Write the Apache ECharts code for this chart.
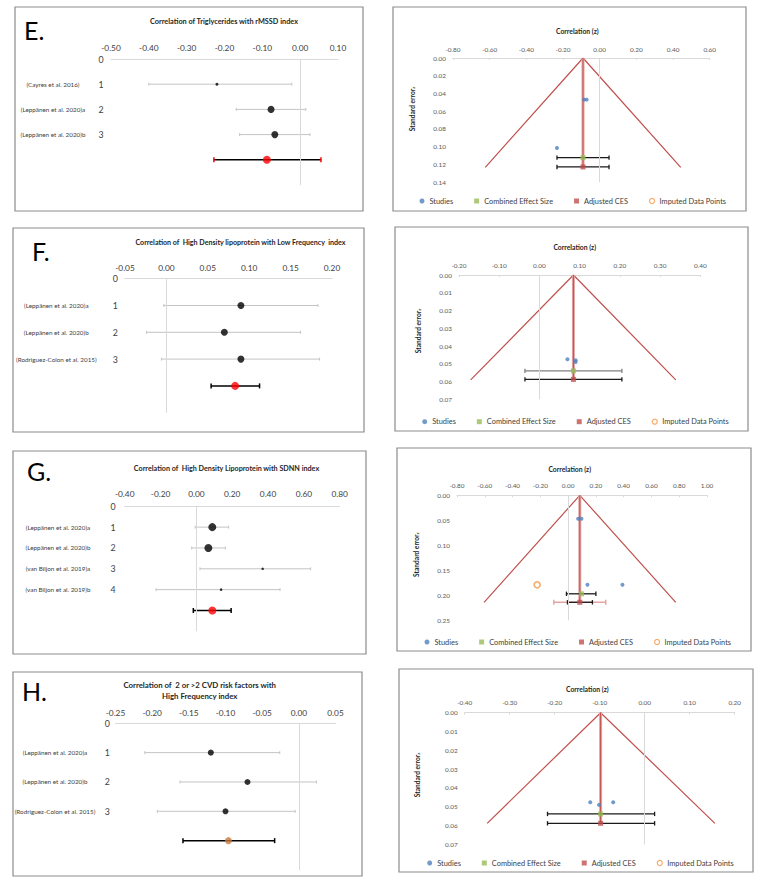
<!DOCTYPE html>
<html><head><meta charset="utf-8">
<script src="https://cdn.jsdelivr.net/npm/echarts/dist/echarts.min.js"></script>
<style>html,body{margin:0;padding:0;background:#fff}#c{width:764px;height:883px}</style>
</head><body><div id="c"></div><script>
// ================= DATA =================
// ---- E: forest (Triglycerides vs rMSSD) ----
const eStudies = ['(Cayres et al. 2016)', '(Leppänen et al. 2020)a', '(Leppänen et al. 2020)b'];
const eEstimate = [-0.220, -0.077, -0.067];
const eLower = [-0.400, -0.169, -0.160];
const eUpper = [-0.022, 0.015, 0.026];
const eSummary = [-0.088, -0.228, 0.055];          // estimate, lower, upper
const eXAxis = [-0.5, 0.1, 0.1];                    // min, max, interval
// ---- E: funnel ----
const eFunnelApex = [-0.091, 0];
const eFunnelEdges = [[-0.624, 0.1234], [0.442, 0.1234]];
const eStudyZ = [-0.085, -0.071, -0.233];
const eStudySE = [0.047, 0.047, 0.1016];
const eCombined = [-0.091, 0.1125];
const eCombinedCI = [-0.233, 0.051];
const eAdjusted = [-0.091, 0.123];
const eAdjustedCI = [-0.233, 0.051];
const eFunnelX = [-0.8, 0.6, 0.2];
const eFunnelY = [0, 0.14, 0.02];

// ---- F: forest (HDL vs LF) ----
const fStudies = ['(Leppänen et al. 2020)a', '(Leppänen et al. 2020)b', '(Rodriguez-Colon et al. 2015)'];
const fEstimate = [0.090, 0.070, 0.090];
const fLower = [-0.003, -0.024, -0.006];
const fUpper = [0.183, 0.162, 0.185];
const fSummary = [0.083, 0.054, 0.1125];
const fXAxis = [-0.05, 0.2, 0.05];
// ---- F: funnel ----
const fFunnelApex = [0.0845, 0];
const fFunnelEdges = [[-0.171, 0.0591], [0.339, 0.0591]];
const fStudyZ = [0.0697, 0.090, 0.090];
const fStudySE = [0.0475, 0.048, 0.049];
const fCombined = [0.0845, 0.054];
const fCombinedCI = [-0.036, 0.205];
const fAdjusted = [0.0845, 0.0588];
const fAdjustedCI = [-0.036, 0.205];
const fFunnelX = [-0.2, 0.4, 0.1];
const fFunnelY = [0, 0.07, 0.01];

// ---- G: forest (HDL vs SDNN) ----
const gStudies = ['(Leppänen et al. 2020)a', '(Leppänen et al. 2020)b', '(van Biljon et al. 2019)a', '(van Biljon et al. 2019)b'];
const gEstimate = [0.089, 0.067, 0.370, 0.138];
const gLower = [-0.007, -0.026, 0.020, -0.225];
const gUpper = [0.180, 0.162, 0.638, 0.467];
const gSummary = [0.089, -0.017, 0.194];
const gXAxis = [-0.4, 0.8, 0.2];
// ---- G: funnel ----
const gFunnelApex = [0.084, 0];
const gFunnelEdges = [[-0.605, 0.214], [0.775, 0.214]];
const gStudyZ = [0.072, 0.096, 0.139, 0.391];
const gStudySE = [0.0467, 0.0467, 0.179, 0.179];
const gImputedZ = [-0.223];
const gImputedSE = [0.179];
const gCombined = [0.096, 0.197];
const gCombinedCI = [-0.012, 0.200];
const gAdjusted = [0.084, 0.214];
const gAdjustedCI = [-0.005, 0.175];
const gAdjustedCIWide = [-0.103, 0.271];
const gFunnelX = [-0.8, 1.0, 0.2];
const gFunnelY = [0, 0.25, 0.05];

// ---- H: forest (2 or >2 CVD risk factors vs HF) ----
const hStudies = ['(Leppänen et al. 2020)a', '(Leppänen et al. 2020)b', '(Rodriguez-Colon et al. 2015)'];
const hEstimate = [-0.120, -0.070, -0.100];
const hLower = [-0.210, -0.162, -0.193];
const hUpper = [-0.026, 0.024, -0.005];
const hSummary = [-0.096, -0.158, -0.033];
const hXAxis = [-0.25, 0.05, 0.05];
// ---- H: funnel ----
const hFunnelApex = [-0.098, 0];
const hFunnelEdges = [[-0.350, 0.0588], [0.156, 0.0588]];
const hStudyZ = [-0.121, -0.1016, -0.070];
const hStudySE = [0.0476, 0.049, 0.0476];
const hCombined = [-0.098, 0.0538];
const hCombinedCI = [-0.216, 0.022];
const hAdjusted = [-0.098, 0.0588];
const hAdjustedCI = [-0.216, 0.022];
const hFunnelX = [-0.4, 0.2, 0.1];
const hFunnelY = [0, 0.07, 0.01];

const legendNames = ['Studies', 'Combined Effect Size', 'Adjusted CES', 'Imputed Data Points'];
const funnelTitle = 'Correlation (z)';
const funnelYName = 'Standard error';

// ================= BUILD =================
const FONT = 'Lato, "Open Sans", sans-serif';
const fmt2 = v => (Math.abs(v) < 1e-9 ? 0 : v).toFixed(2);
const grids = [], xAxes = [], yAxes = [], series = [], graphics = [], legends = [];

function ciSeries(idx, data, st) {
  return {
    type: 'custom', xAxisIndex: idx, yAxisIndex: idx, silent: true, data: data,
    encode: { x: [0, 1], y: 2 }, z: st.z || 2,
    renderItem: function (params, api) {
      const y = api.value(2);
      const a = api.coord([api.value(0), y]), b = api.coord([api.value(1), y]);
      const ch = [{ type: 'line', shape: { x1: a[0], y1: a[1], x2: b[0], y2: b[1] }, style: { stroke: st.color, lineWidth: st.width } }];
      if (st.cap) {
        [a, b].forEach(p => ch.push({ type: 'line', shape: { x1: p[0], y1: p[1] - st.cap, x2: p[0], y2: p[1] + st.cap },
          style: { stroke: st.capColor || st.color, lineWidth: st.capWidth || st.width } }));
      }
      return { type: 'group', children: ch };
    }
  };
}
function txt(x, y, str, size, weight, extra) {
  return Object.assign({ type: 'text', x: x, y: y, silent: true, z: 10,
    style: { text: str, fontSize: size, fontWeight: weight || 'normal', fontFamily: FONT, fill: '#262626', align: 'center', verticalAlign: 'middle' } }, extra || {});
}
function box(b) {
  graphics.push({ type: 'rect', silent: true, z: 0, shape: { x: b[0], y: b[1], width: b[2], height: b[3] },
    style: { fill: 'none', stroke: '#8c8c8c', lineWidth: 1.2 } });
}

function addForest(d, L, S) {
  const idx = grids.length;
  const n = d.studies.length;
  grids.push({ left: L.left, top: L.top, width: L.width, height: L.height });
  xAxes.push({ type: 'value', gridIndex: idx, position: 'top', min: d.x[0], max: d.x[1], interval: d.x[2],
    axisLine: { show: true, onZero: false, lineStyle: { color: '#d9d9d9', width: 1 } }, axisTick: { show: false }, splitLine: { show: false },
    axisLabel: { formatter: fmt2, fontSize: 8.3, color: '#404040', fontFamily: FONT, margin: L.xMargin } });
  yAxes.push({ type: 'value', gridIndex: idx, inverse: true, min: 0, max: L.rows, interval: 1,
    axisLine: { show: false }, axisTick: { show: false }, splitLine: { show: false },
    axisLabel: { margin: L.yMargin, fontFamily: FONT,
      formatter: function (v) { v = Math.round(v); if (v === 0) return '{v|0}'; if (v <= n) return '{n|' + d.studies[v - 1] + '}{v|' + v + '}'; return ''; },
      rich: { n: { width: L.nameW, align: 'center', fontSize: 6.3, color: '#404040', fontFamily: FONT },
              v: { width: 10, align: 'center', fontSize: 8.8, color: '#404040', fontFamily: FONT } } } });
  const rows = d.studies.map((s, i) => i + 1);
  series.push(ciSeries(idx, rows.map((r, i) => [d.lo[i], d.hi[i], r]), { color: '#c4c4c4', width: 1, cap: 1.5 }));
  series.push(ciSeries(idx, [[d.summary[1], d.summary[2], n + 1]], { color: '#000', width: 1.5, cap: 2.5, capColor: S.capColor, capWidth: 1.5 }));
  series.push({ type: 'scatter', xAxisIndex: idx, yAxisIndex: idx, silent: true, z: 3,
    data: rows.map((r, i) => ({ value: [d.est[i], r], symbolSize: S.sizes[i] })), itemStyle: { color: '#000' },
    markLine: { silent: true, symbol: ['none', 'none'], label: { show: false }, lineStyle: { color: '#d9d9d9', width: 1, type: 'solid' }, data: [{ xAxis: 0 }] } });
  series.push({ type: 'scatter', xAxisIndex: idx, yAxisIndex: idx, silent: true, z: 4,
    data: [[d.summary[0], n + 1]], symbolSize: S.sumSize, itemStyle: { color: S.sumColor } });
  box(L.box);
  graphics.push(txt(L.letter[0], L.letter[1], L.letterText, 25, 'normal', { style: { text: L.letterText, fontSize: 25, fontFamily: FONT, fill: '#000', align: 'left', verticalAlign: 'middle' } }));
  L.title.forEach((t, i) => graphics.push(txt(L.titlePos[0], L.titlePos[1] + i * L.titleLine, t, L.titleSize, 'bold', null)));
}

function addFunnel(d, L) {
  const idx = grids.length;
  grids.push({ left: L.left, top: L.top, width: L.width, height: L.height });
  xAxes.push({ type: 'value', gridIndex: idx, position: 'top', min: d.x[0], max: d.x[1], interval: d.x[2],
    axisLine: { show: true, onZero: false, lineStyle: { color: '#d9d9d9', width: 1 } },
    axisTick: { show: true, length: 2, inside: true, lineStyle: { color: '#d9d9d9' } }, splitLine: { show: false },
    axisLabel: { formatter: fmt2, fontSize: 6.4, color: '#595959', fontFamily: FONT, margin: L.xMargin } });
  yAxes.push({ type: 'value', gridIndex: idx, inverse: true, min: d.y[0], max: d.y[1], interval: d.y[2],
    axisLine: { show: false }, axisTick: { show: false }, splitLine: { show: false },
    axisLabel: { formatter: fmt2, fontSize: 6.4, color: '#595959', fontFamily: FONT, margin: 7 } });
  const bottom = d.edges[0][1];
  series.push({ type: 'line', xAxisIndex: idx, yAxisIndex: idx, silent: true, symbol: 'none', z: 2,
    data: [d.edges[0], d.apex, d.edges[1]], lineStyle: { color: '#c0504d', width: 1.2 },
    markLine: { silent: true, symbol: ['none', 'none'], label: { show: false }, lineStyle: { color: '#d9d9d9', width: 1, type: 'solid' }, data: [{ xAxis: 0 }] } });
  series.push({ type: 'line', xAxisIndex: idx, yAxisIndex: idx, silent: true, symbol: 'none', z: 2,
    data: [d.apex, [d.apex[0], bottom]], lineStyle: { color: '#e3a4a2', width: 3 } });
  series.push({ type: 'line', xAxisIndex: idx, yAxisIndex: idx, silent: true, symbol: 'none', z: 2,
    data: [d.apex, [d.apex[0], bottom]], lineStyle: { color: '#c0504d', width: 1 } });
  if (d.adjWide) series.push(ciSeries(idx, [[d.adjWide[0], d.adjWide[1], d.adj[1]]], { color: '#e6a5a4', width: 1.5, cap: 2.5, z: 3 }));
  series.push(ciSeries(idx, [[d.combCI[0], d.combCI[1], d.comb[1]]], { color: L.combCIColor || '#1a1a1a', width: 1.3, cap: 2.2, z: 3 }));
  series.push(ciSeries(idx, [[d.adjCI[0], d.adjCI[1], d.adj[1]]], { color: '#1a1a1a', width: 1.3, cap: 2.2, z: 3 }));
  series.push({ name: 'Studies', type: 'scatter', xAxisIndex: idx, yAxisIndex: idx, silent: true, z: 5,
    data: d.studyZ.map((z, i) => [z, d.studySE[i]]), symbolSize: 4, itemStyle: { color: '#4f81bd' } });
  series.push({ name: 'Combined Effect Size', type: 'scatter', xAxisIndex: idx, yAxisIndex: idx, silent: true, z: 5,
    data: [d.comb], symbol: 'rect', symbolSize: 5, itemStyle: { color: '#9bbb59' } });
  series.push({ name: 'Adjusted CES', type: 'scatter', xAxisIndex: idx, yAxisIndex: idx, silent: true, z: 5,
    data: [d.adj], symbol: 'rect', symbolSize: 5, itemStyle: { color: '#c0504d' } });
  series.push({ name: 'Imputed Data Points', type: 'scatter', xAxisIndex: idx, yAxisIndex: idx, silent: true, z: 5,
    data: (d.impZ || []).map((z, i) => [z, d.impSE[i]]), symbol: 'circle', symbolSize: 6,
    itemStyle: { color: '#ffffff', borderColor: '#f79646', borderWidth: 1.6 } });
  legends.push({ left: L.legend[0], top: L.legend[1] - 4.5, itemGap: 21, itemWidth: 5, itemHeight: 5, selectedMode: false,
    padding: 0, textStyle: { fontSize: 7.4, color: '#404040', fontFamily: FONT },
    data: [
      { name: legendNames[0], icon: 'circle', itemStyle: { color: '#4f81bd' } },
      { name: legendNames[1], icon: 'rect', itemStyle: { color: '#9bbb59' } },
      { name: legendNames[2], icon: 'rect', itemStyle: { color: '#c0504d' } },
      { name: legendNames[3], icon: 'circle', itemStyle: { color: '#ffffff', borderColor: '#f79646', borderWidth: 1.2 } }
    ] });
  box(L.box);
  graphics.push(txt(L.titlePos[0], L.titlePos[1], funnelTitle, 6.8, 'bold', null));
  graphics.push({ type: 'text', x: L.yName[0], y: L.yName[1], rotation: Math.PI / 2, silent: true, z: 10,
    style: { text: funnelYName + '{s|z}', fontSize: 6.6, fontWeight: 'bold', fontFamily: FONT, fill: '#262626', align: 'center', verticalAlign: 'middle',
      rich: { s: { fontSize: 4.5, fontWeight: 'bold', fontFamily: FONT, fill: '#262626', verticalAlign: 'bottom' } } } });
}

// ---- forest panels ----
addForest({ studies: eStudies, est: eEstimate, lo: eLower, hi: eUpper, summary: eSummary, x: eXAxis },
  { left: 111, top: 59, width: 227, height: 126, rows: 5, nameW: 86, yMargin: 5, xMargin: 7.5, box: [15, 7, 348, 204],
    letter: [24, 30], letterText: 'E.', title: ['Correlation of Triglycerides with rMSSD index'], titlePos: [224, 21.3], titleSize: 7.3, titleLine: 0 },
  { sizes: [3, 7, 7], sumSize: 8, sumColor: '#ff0000', capColor: '#ff0000' });
addForest({ studies: fStudies, est: fEstimate, lo: fLower, hi: fUpper, summary: fSummary, x: fXAxis },
  { left: 125, top: 278.7, width: 207, height: 134, rows: 5, nameW: 108, yMargin: 4.7, xMargin: 6.5, box: [13, 228, 351, 204],
    letter: [32, 251], letterText: 'F.', title: ['Correlation of  High Density lipoprotein with Low Frequency  index'], titlePos: [240.5, 242.7], titleSize: 7.1, titleLine: 0 },
  { sizes: [7, 7, 7], sumSize: 8, sumColor: '#ff0000', capColor: '#000' });
addForest({ studies: gStudies, est: gEstimate, lo: gLower, hi: gUpper, summary: gSummary, x: gXAxis },
  { left: 124.7, top: 506.3, width: 215, height: 125, rows: 6, nameW: 100, yMargin: 6.7, xMargin: 8, box: [13, 451, 353, 203],
    letter: [27, 471], letterText: 'G.', title: ['Correlation of  High Density Lipoprotein with SDNN index'], titlePos: [226.5, 468], titleSize: 7.2, titleLine: 0 },
  { sizes: [8, 8, 2.5, 2.5], sumSize: 8, sumColor: '#ff0000', capColor: '#000' });
addForest({ studies: hStudies, est: hEstimate, lo: hLower, hi: hUpper, summary: hSummary, x: hXAxis },
  { left: 115.5, top: 723.3, width: 220, height: 146.7, rows: 5, nameW: 94.6, yMargin: 3.2, xMargin: 6.5, box: [13, 672, 349, 204],
    letter: [22, 691], letterText: 'H.', title: ['Correlation of  2 or >2 CVD risk factors with', 'High Frequency index'], titlePos: [199.7, 685], titleSize: 7.8, titleLine: 11 },
  { sizes: [6, 6, 6], sumSize: 7, sumColor: '#c8793e', capColor: '#000' });

// ---- funnel panels ----
addFunnel({ apex: eFunnelApex, edges: eFunnelEdges, studyZ: eStudyZ, studySE: eStudySE, comb: eCombined, combCI: eCombinedCI, adj: eAdjusted, adjCI: eAdjustedCI, x: eFunnelX, y: eFunnelY },
  { left: 453, top: 58, width: 256.7, height: 124, xMargin: 6, box: [393, 7, 353, 204], titlePos: [577.3, 31.3], yName: [412.3, 109], legend: [419.5, 202] });
addFunnel({ apex: fFunnelApex, edges: fFunnelEdges, studyZ: fStudyZ, studySE: fStudySE, comb: fCombined, combCI: fCombinedCI, adj: fAdjusted, adjCI: fAdjustedCI, x: fFunnelX, y: fFunnelY },
  { left: 459, top: 275, width: 241.3, height: 124.3, xMargin: 6.5, box: [395, 227, 353, 204], titlePos: [574.7, 247], yName: [418, 331], legend: [422.2, 422.7], combCIColor: '#7f7f7f' });
addFunnel({ apex: gFunnelApex, edges: gFunnelEdges, studyZ: gStudyZ, studySE: gStudySE, impZ: gImputedZ, impSE: gImputedSE, comb: gCombined, combCI: gCombinedCI, adj: gAdjusted, adjCI: gAdjustedCI, adjWide: gAdjustedCIWide, x: gFunnelX, y: gFunnelY },
  { left: 457, top: 495.3, width: 250, height: 125, xMargin: 6.5, box: [397, 448, 354, 203], titlePos: [569.7, 468.7], yName: [416.3, 554.7], legend: [424.5, 643] });
addFunnel({ apex: hFunnelApex, edges: hFunnelEdges, studyZ: hStudyZ, studySE: hStudySE, comb: hCombined, combCI: hCombinedCI, adj: hAdjusted, adjCI: hAdjustedCI, x: hFunnelX, y: hFunnelY },
  { left: 464.7, top: 712.7, width: 270, height: 131.7, xMargin: 7.5, box: [399, 669, 354, 203], titlePos: [587.3, 689], yName: [417.3, 775], legend: [427.2, 864] });

const chart = echarts.init(document.getElementById('c'), null, { renderer: 'svg', width: 764, height: 883 });
chart.setOption({
  animation: false, backgroundColor: '#ffffff',
  grid: grids, xAxis: xAxes, yAxis: yAxes, series: series, legend: legends, graphic: { elements: graphics }
});
</script></body></html>
